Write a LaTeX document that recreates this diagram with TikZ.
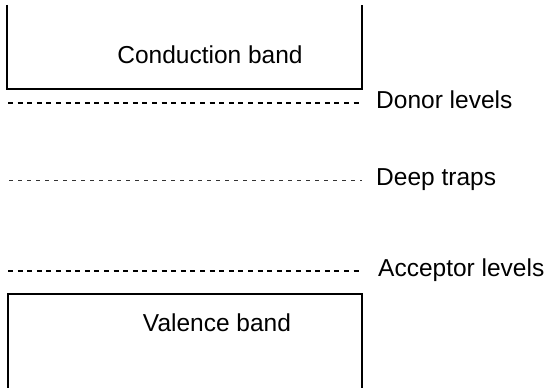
\documentclass[tikz,border=0pt]{standalone}
\usepackage{fontspec}
\setmainfont{Liberation Sans}
\usepackage{tikz}
\usetikzlibrary{positioning}
\tikzset{band/.style = {line width = 1.4pt}}
\tikzset{level/.style = {line width = 1.1pt, dash pattern = on 5pt off 4.6pt}}
\tikzset{trap/.style = {line width = 0.8pt, dash pattern = on 4pt off 5pt, black!80}}
\tikzset{txt/.style = {anchor = base, inner sep = 0, font = \fontsize{24.5}{30}\selectfont}}
\tikzset{lbl/.style = {txt, anchor = base west}}

\begin{document}
\begin{tikzpicture}[x = 1pt, y = 1pt]
      \useasboundingbox (0, 0) rectangle (547, 388);
      \draw [band] (7, 383) -- (7, 299) -- (362, 299) -- (362, 383);
      \node [txt] (cb) at (210, 324) {Conduction band};
      \draw [band] (8, -2) -- (8, 94) -- (362, 94) -- (362, -2);
      \node [txt] (vb) at (217, 56.5) {Valence band};
      \coordinate (d0) at (8, 285);
      \node [lbl] (donor) at (376, 279.5) {Donor levels};
      \draw [level] (d0) -- ([xshift = -14pt] donor.west |- d0);
      \coordinate (t0) at (9, 207.3);
      \node [lbl] (trap) at (376, 202) {Deep traps};
      \draw [trap] (t0) -- ([xshift = -14pt] trap.west |- t0);
      \coordinate (a0) at (8, 117);
      \node [lbl] (acceptor) at (378, 111.3) {Acceptor levels};
      \draw [level] (a0) -- ([xshift = -16pt] acceptor.west |- a0);
    \end{tikzpicture}
\end{document}
